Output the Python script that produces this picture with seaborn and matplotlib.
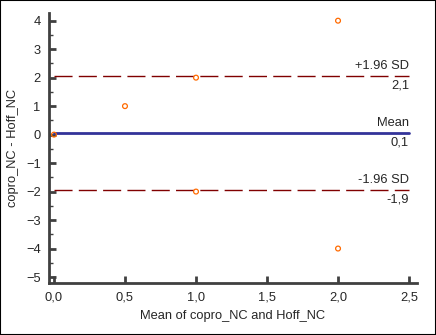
import matplotlib
matplotlib.use("Agg")
import matplotlib.pyplot as plt
import seaborn as sns
import pandas as pd
from matplotlib.ticker import MultipleLocator, FuncFormatter
from matplotlib.patches import Rectangle

# Data (mean of the two methods, difference)
mean_vals = [0.0, 0.5, 1.0, 1.0, 2.0, 2.0]
diff_vals = [0, 1, 2, -2, 4, -4]
mean_diff = 0.06
upper_loa = 2.06
lower_loa = -1.94
mean_label = "0,1"
upper_label = "2,1"
lower_label = "-1,9"
x_ticks = [0.0, 0.5, 1.0, 1.5, 2.0, 2.5]
y_ticks = [-5, -4, -3, -2, -1, 0, 1, 2, 3, 4]

sns.set_style("ticks")
plt.rcParams["font.family"] = ["Liberation Sans", "DejaVu Sans"]

df = pd.DataFrame({"m": mean_vals, "d": diff_vals})

fig = plt.figure(figsize=(4.36, 3.35), dpi=100)
ax = fig.add_axes([49 / 436, (335 - 283) / 335, (417 - 49) / 436, (283 - 13) / 335])

sns.scatterplot(data=df, x="m", y="d", ax=ax, marker="o", s=12,
                facecolors="none", edgecolor="#ff6a00", linewidth=0.9, zorder=5)

xmax_line = 2.5
ax.plot([0, xmax_line], [mean_diff, mean_diff], color="#333399", lw=2.0, zorder=3)
for y in (upper_loa, lower_loa):
    ax.plot([0, xmax_line], [y, y], color="#800000", lw=1.0, dashes=(13, 4.5), zorder=3)

fs = 9.3
ax.text(xmax_line, upper_loa + 0.15, "+1.96 SD", ha="right", va="bottom", fontsize=fs)
ax.text(xmax_line, upper_loa - 0.12, upper_label, ha="right", va="top", fontsize=fs)
ax.text(xmax_line, mean_diff + 0.15, "Mean", ha="right", va="bottom", fontsize=fs)
ax.text(xmax_line, mean_diff - 0.12, mean_label, ha="right", va="top", fontsize=fs)
ax.text(xmax_line, lower_loa + 0.15, "-1.96 SD", ha="right", va="bottom", fontsize=fs)
ax.text(xmax_line, lower_loa - 0.12, lower_label, ha="right", va="top", fontsize=fs)

ax.set_xlim(-0.035, 2.556)
ax.set_ylim(-5.21, 4.27)
ax.set_xticks(x_ticks)
ax.set_yticks(y_ticks)
ax.xaxis.set_major_formatter(FuncFormatter(lambda v, p: f"{v:.1f}".replace(".", ",")))
ax.yaxis.set_minor_locator(MultipleLocator(0.5))

for s in ("top", "right"):
    ax.spines[s].set_visible(False)
for s in ("left", "bottom"):
    ax.spines[s].set_color("#404040")
    ax.spines[s].set_linewidth(2)

ax.tick_params(axis="both", which="major", direction="in", length=5, width=2,
               color="#404040", labelsize=fs, pad=6)
ax.tick_params(axis="y", which="minor", direction="in", length=3, width=1, color="#404040")
ax.tick_params(axis="x", which="minor", length=0)

ax.set_xlabel("Mean of copro_NC and Hoff_NC", fontsize=fs, labelpad=5)
ax.set_ylabel("copro_NC - Hoff_NC", fontsize=fs, labelpad=5)

fig.patches.append(Rectangle((0, 0), 1, 1, transform=fig.transFigure, fill=False,
                             edgecolor="black", lw=1.5, zorder=10))

fig.savefig("out.png", dpi=100)
